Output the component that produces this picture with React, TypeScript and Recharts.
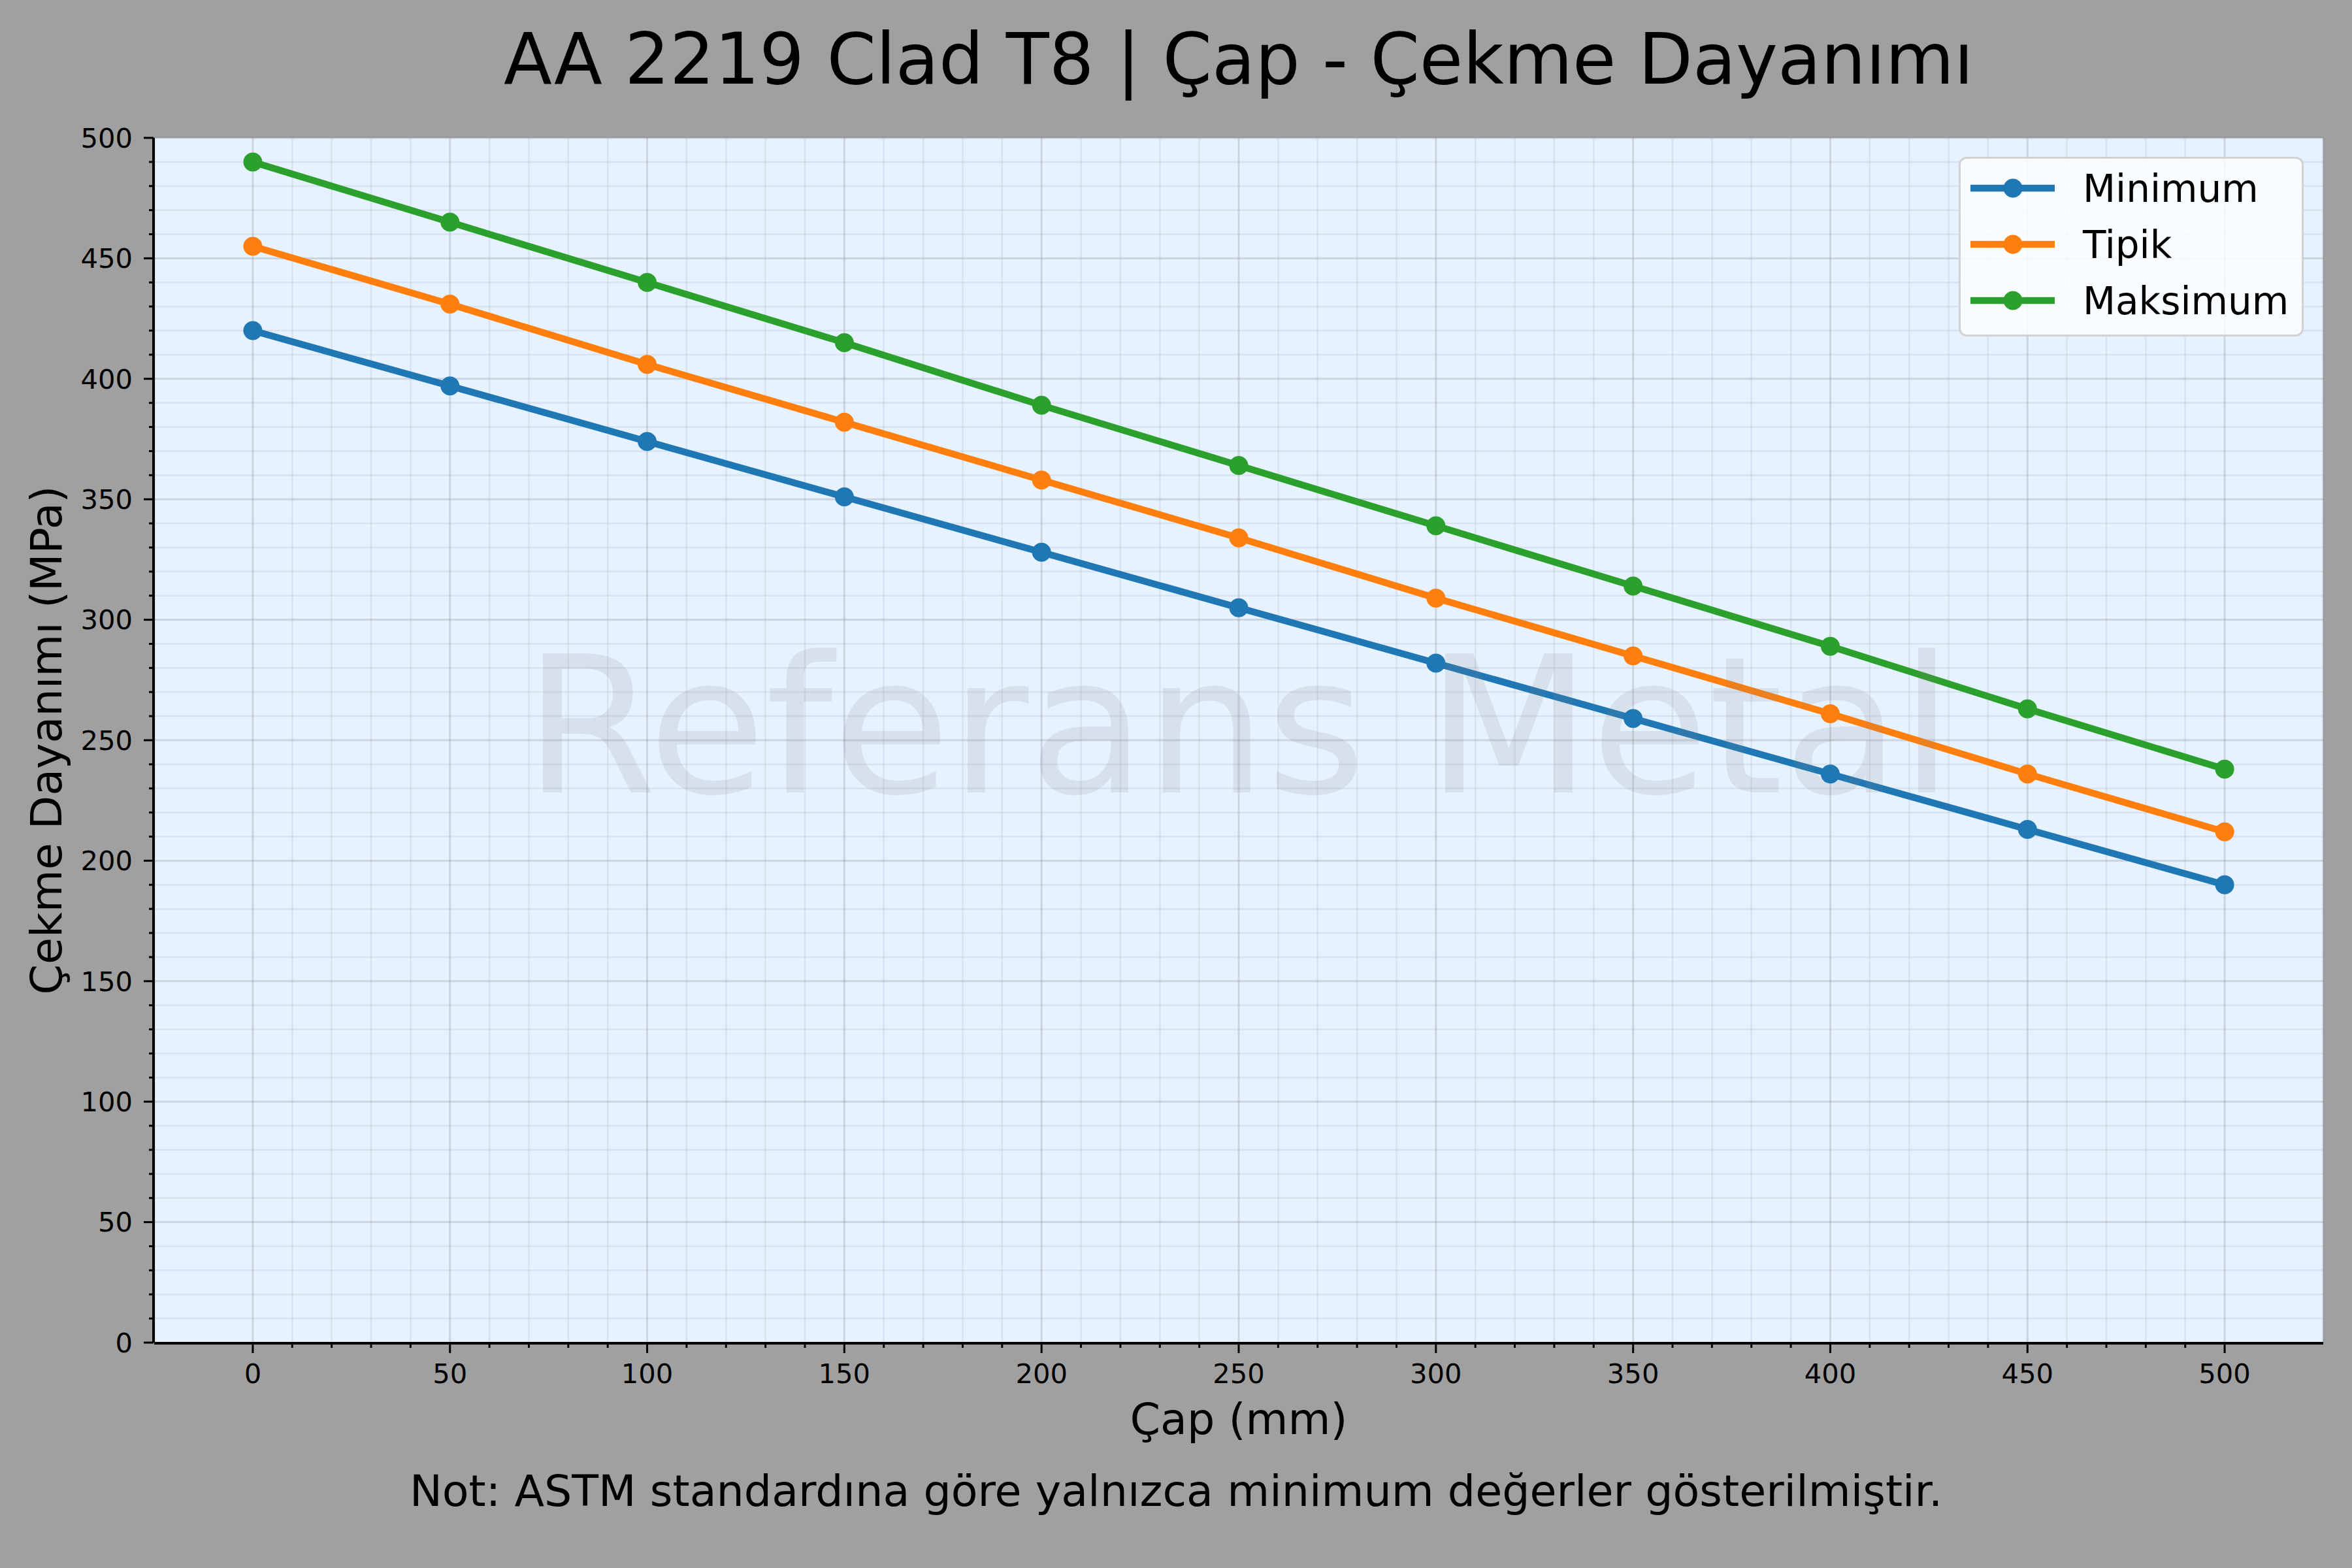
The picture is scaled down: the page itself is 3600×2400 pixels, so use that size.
import React from "react"
import { LineChart, Line, XAxis, YAxis, CartesianGrid, Legend, ReferenceDot } from "recharts"

const capMm = [0, 50, 100, 150, 200, 250, 300, 350, 400, 450, 500]
const minimum = [420, 397, 374, 351, 328, 305, 282, 259, 236, 213, 190]
const tipik = [455, 431, 406, 382, 358, 334, 309, 285, 261, 236, 212]
const maksimum = [490, 465, 440, 415, 389, 364, 339, 314, 289, 263, 238]

const xMajor = [0, 50, 100, 150, 200, 250, 300, 350, 400, 450, 500]
const yMajor = [0, 50, 100, 150, 200, 250, 300, 350, 400, 450, 500]
const xMinor = Array.from({ length: 51 }, (_, i) => i * 10).filter((v) => v % 50 !== 0)
const yMinor = Array.from({ length: 51 }, (_, i) => i * 10).filter((v) => v % 50 !== 0)

const series = [
  { key: "min", name: "Minimum", color: "#1f77b4" },
  { key: "tip", name: "Tipik", color: "#ff7f0e" },
  { key: "max", name: "Maksimum", color: "#2ca02c" },
]

const data = capMm.map((c, i) => ({ cap: c, min: minimum[i], tip: tipik[i], max: maksimum[i] }))

const FONT = "'DejaVu Sans', sans-serif"
const W = 3600
const H = 2400

const LegendBox = ({ payload }: any) => {
  const order = series.map((s) => s.name)
  const rows = [...(payload || [])].sort((a: any, b: any) => order.indexOf(a.value) - order.indexOf(b.value))
  return (
    <div style={{ width: 528, height: 275, boxSizing: "border-box", border: "3px solid #d2d2d2", borderRadius: 12, background: "rgba(255,255,255,0.8)" }}>
      <svg width={522} height={269} style={{ display: "block" }}>
        {rows.map((p: any, i: number) => {
          const cy = 45 + i * 86
          return (
            <g key={p.value}>
              <line x1={15} x2={144} y1={cy} y2={cy} stroke={p.color} strokeWidth={10.4} />
              <circle cx={80} cy={cy} r={14.5} fill={p.color} />
              <text x={187} y={cy + 21} fontSize={58} fontFamily={FONT} fill="#000">{p.value}</text>
            </g>
          )
        })}
      </svg>
    </div>
  )
}

const Watermark = ({ cx, cy }: any) => (
  <text x={cx} y={cy + 80} textAnchor="middle" fontSize={292} fontFamily={FONT} fill="#808080" fillOpacity={0.15}>
    Referans Metal
  </text>
)

export default function App() {
  return (
    <div style={{ position: "fixed", left: 0, top: 0, width: W, height: H, background: "#a0a0a0", fontFamily: FONT }}>
      <LineChart width={W} height={H} data={data} margin={{ top: 211, right: 44, bottom: 0, left: 0 }} style={{ fontFamily: FONT }}>
        <CartesianGrid xAxisId="aMinorX" yAxisId="aMinorY" stroke="#808080" strokeOpacity={0.13} strokeWidth={2.5} fill="#e6f2ff" />
        <CartesianGrid xAxisId="main" yAxisId="main" stroke="#808080" strokeOpacity={0.25} strokeWidth={3} />

        <XAxis xAxisId="aMinorX" type="number" dataKey="cap" domain={[-25, 525]} ticks={xMinor} interval={0} height={1} tick={() => null} tickSize={8} axisLine={false} tickLine={{ stroke: "#000", strokeWidth: 3 }} allowDataOverflow />
        <XAxis xAxisId="main" type="number" dataKey="cap" domain={[-25, 525]} ticks={xMajor} interval={0} height={344} tickSize={15} tickMargin={16}
          tick={{ fill: "#000", fontSize: 41.7, fontFamily: FONT }} axisLine={{ stroke: "#000", strokeWidth: 4 }} tickLine={{ stroke: "#000", strokeWidth: 3 }} allowDataOverflow
          label={{ content: ({ viewBox }: any) => (
            <text x={viewBox.x + viewBox.width / 2} y={2195} textAnchor="middle" fontSize={66.7} fontFamily={FONT} fill="#000">Çap (mm)</text>
          ) }} />
        <XAxis xAxisId="top" orientation="top" type="number" domain={[-25, 525]} height={0} tick={false} tickLine={false} axisLine={{ stroke: "#000", strokeWidth: 4 }} allowDataOverflow />

        <YAxis yAxisId="aMinorY" type="number" domain={[0, 500]} ticks={yMinor} interval={0} width={1} tick={() => null} tickSize={8} axisLine={false} tickLine={{ stroke: "#000", strokeWidth: 3 }} allowDataOverflow />
        <YAxis yAxisId="main" type="number" domain={[0, 500]} ticks={yMajor} interval={0} width={235} tickSize={15} tickMargin={17}
          tick={{ fill: "#000", fontSize: 41.7, fontFamily: FONT }} axisLine={{ stroke: "#000", strokeWidth: 4 }} tickLine={{ stroke: "#000", strokeWidth: 3 }} allowDataOverflow
          label={{ content: ({ viewBox }: any) => {
            const x = 94
            const y = viewBox.y + viewBox.height / 2
            return <text x={x} y={y} transform={`rotate(-90 ${x} ${y})`} textAnchor="middle" fontSize={66.7} fontFamily={FONT} fill="#000">Çekme Dayanımı (MPa)</text>
          } }} />
        <YAxis yAxisId="right" orientation="right" type="number" domain={[0, 500]} width={0} tick={false} tickLine={false} axisLine={{ stroke: "#000", strokeWidth: 4 }} allowDataOverflow />

        <ReferenceDot xAxisId="main" yAxisId="main" x={250} y={250} r={0} shape={<Watermark />} />

        {series.map((s) => (
          <Line key={s.key} xAxisId="main" yAxisId="main" type="linear" dataKey={s.key} name={s.name} stroke={s.color} strokeWidth={10.4}
            dot={{ r: 14.5, fill: s.color, stroke: s.color, strokeWidth: 0 }} activeDot={false} isAnimationActive={false} />
        ))}

        <Legend layout="vertical" align="center" verticalAlign="middle" content={<LegendBox />}
          wrapperStyle={{ left: 2998, top: 240, width: 528, height: 275, right: "auto", bottom: "auto" }} />
      </LineChart>

      <svg width={W} height={H} style={{ position: "absolute", left: 0, top: 0, pointerEvents: "none" }}>
        <text x={1896} y={128} textAnchor="middle" fontSize={108} fontFamily={FONT} fill="#000">AA 2219 Clad T8 | Çap - Çekme Dayanımı</text>
        <text x={1800} y={2305} textAnchor="middle" fontSize={66.7} fontFamily={FONT} fill="#000">Not: ASTM standardına göre yalnızca minimum değerler gösterilmiştir.</text>
      </svg>
    </div>
  )
}
